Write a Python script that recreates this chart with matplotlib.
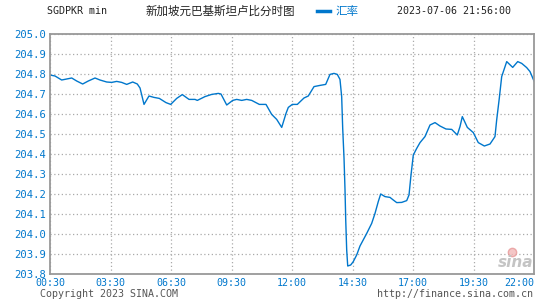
import numpy as np
import matplotlib.pyplot as plt
from matplotlib.lines import Line2D

# x positions are in tick-interval units (0 = 00:30 ... 8 = 22:00)
tick_labels = ["00:30", "03:30", "06:30", "09:30", "12:00",
               "14:30", "17:00", "19:30", "22:00"]
y_ticks = [203.8, 203.9, 204.0, 204.1, 204.2, 204.3,
           204.4, 204.5, 204.6, 204.7, 204.8, 204.9, 205.0]

x_pos = [0.000, 0.083, 0.193, 0.276, 0.359, 0.441, 0.540, 0.633, 0.744, 0.826,
         0.937, 1.020, 1.102, 1.185, 1.268, 1.367, 1.443, 1.488, 1.554, 1.636,
         1.719, 1.807, 1.917, 1.995, 2.094, 2.187, 2.298, 2.397, 2.435, 2.562,
         2.673, 2.782, 2.826, 2.921, 3.020, 3.086, 3.169, 3.251, 3.334, 3.460,
         3.570, 3.664, 3.747, 3.830, 3.901, 3.939, 4.005, 4.088, 4.198, 4.269,
         4.364, 4.463, 4.557, 4.628, 4.694, 4.749, 4.793, 4.821, 4.838, 4.860,
         4.876, 4.888, 4.904, 4.921, 4.970, 5.013, 5.069, 5.124, 5.235, 5.317,
         5.372, 5.426, 5.466, 5.537, 5.620, 5.674, 5.731, 5.813, 5.896, 5.934,
         5.967, 6.005, 6.061, 6.116, 6.198, 6.281, 6.364, 6.446, 6.545, 6.640,
         6.732, 6.777, 6.815, 6.898, 6.997, 7.079, 7.179, 7.273, 7.355, 7.383,
         7.426, 7.466, 7.549, 7.648, 7.731, 7.797, 7.879, 7.934, 8.000]
rate = [204.795, 204.790, 204.770, 204.775, 204.780, 204.765, 204.750, 204.765, 204.780, 204.770,
        204.760, 204.758, 204.763, 204.758, 204.748, 204.760, 204.750, 204.730, 204.648, 204.690,
        204.683, 204.678, 204.657, 204.648, 204.678, 204.697, 204.673, 204.673, 204.668, 204.687,
        204.698, 204.703, 204.700, 204.645, 204.668, 204.673, 204.668, 204.673, 204.668, 204.648,
        204.648, 204.598, 204.573, 204.533, 204.603, 204.633, 204.648, 204.648, 204.680, 204.690,
        204.737, 204.743, 204.748, 204.798, 204.803, 204.798, 204.773, 204.687, 204.528, 204.378,
        204.223, 204.070, 203.920, 203.840, 203.845, 203.862, 203.895, 203.940, 204.003, 204.053,
        204.103, 204.162, 204.200, 204.187, 204.183, 204.170, 204.157, 204.158, 204.167, 204.195,
        204.295, 204.395, 204.428, 204.457, 204.487, 204.545, 204.557, 204.540, 204.525, 204.523,
        204.495, 204.537, 204.587, 204.533, 204.507, 204.457, 204.440, 204.450, 204.487, 204.570,
        204.678, 204.787, 204.862, 204.833, 204.862, 204.853, 204.832, 204.812, 204.765]

blue = "#0077cc"
grey_txt = "#555555"
mono = "DejaVu Sans Mono"
cjk = ["Noto Sans CJK SC", "DejaVu Sans"]

fig = plt.figure(figsize=(5.45, 3.0), dpi=100)
ax = fig.add_axes([50 / 545, 26 / 300, 484 / 545, 240 / 300])

ax.plot(x_pos, rate, color=blue, linewidth=1.0)

ax.set_xlim(0, 8)
ax.set_ylim(203.8, 205.0)
ax.set_xticks(range(len(tick_labels)))
ax.set_xticklabels(tick_labels)
ax.set_yticks(y_ticks)
ax.set_yticklabels([f"{v:.1f}" for v in y_ticks])
ax.tick_params(axis="y", length=0, labelsize=7.6, labelcolor=blue, pad=3)
ax.tick_params(axis="x", length=0, labelsize=7.2, labelcolor=blue, pad=3)
for lbl in ax.get_xticklabels() + ax.get_yticklabels():
    lbl.set_fontfamily(mono)
# last time label sits inside the right edge
ax.get_xticklabels()[-1].set_horizontalalignment("right")

ax.grid(True, color="#aaaaaa", linestyle=(0, (1, 2)), linewidth=0.9)
for s in ax.spines.values():
    s.set_color("#999999")
    s.set_linewidth(1.3)

# header
fig.text(47 / 545, 1 - 11 / 300, "SGDPKR min", family=mono, fontsize=7.2,
         color="#222222", va="center", ha="left")
fig.text(145 / 545, 1 - 11 / 300, "新加坡元巴基斯坦卢比分时图", family=cjk,
         fontsize=8.3, color="#222222", va="center", ha="left")
fig.add_artist(Line2D([317 / 545, 330 / 545], [1 - 11 / 300, 1 - 11 / 300],
                      color=blue, linewidth=2.5, transform=fig.transFigure))
fig.text(336 / 545, 1 - 11 / 300, "汇率", family=cjk, fontsize=8.3,
         color=blue, va="center", ha="left")
fig.text(511 / 545, 1 - 11 / 300, "2023-07-06 21:56:00", family=mono,
         fontsize=7.2, color="#222222", va="center", ha="right")

# footer
fig.text(40 / 545, 1 - 294 / 300, "Copyright 2023 SINA.COM", family=mono,
         fontsize=7.2, color=grey_txt, va="center", ha="left")
fig.text(533 / 545, 1 - 294 / 300, "http://finance.sina.com.cn", family=mono,
         fontsize=7.2, color=grey_txt, va="center", ha="right")

# watermark
ax.text(0.998, 0.015, "sina", transform=ax.transAxes, ha="right", va="bottom",
        fontsize=11, fontweight="bold", style="italic", color="#c4c4c4")
ax.plot([0.955], [0.09], transform=ax.transAxes, marker="o", markersize=6,
        markerfacecolor="#f2b8b8", markeredgecolor="#e89a9a", alpha=0.8)

fig.savefig("out.png", dpi=100)
